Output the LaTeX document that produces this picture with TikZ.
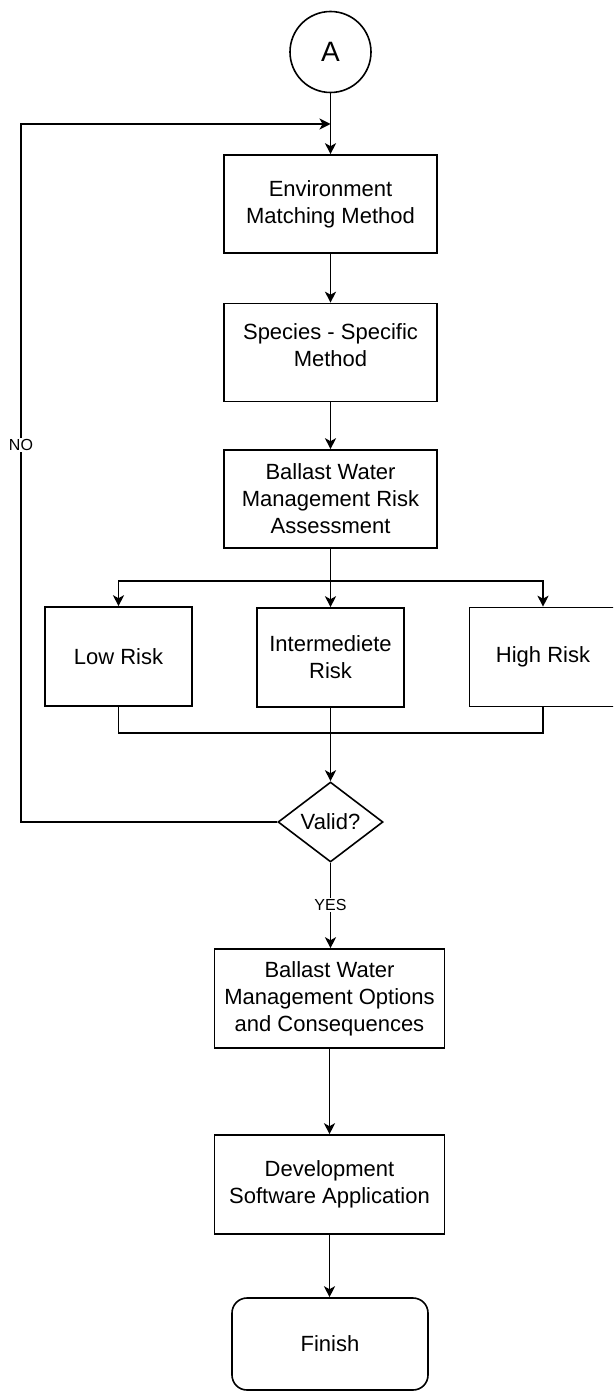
\documentclass[tikz,border=0pt]{standalone}
\usepackage{fontspec}
\setmainfont{Liberation Sans}
\usetikzlibrary{shapes.geometric,arrows.meta,calc}
\begin{document}
\begin{tikzpicture}[x=1pt,y=-1pt,
  every node/.style={font=\fontsize{22}{27}\selectfont, text=black, align=center},
  box/.style={draw, line width=1.6pt, rectangle, inner sep=0pt},
  mid/.style={box, minimum width=213pt, minimum height=98pt},
  riskbox/.style={box, minimum width=147pt, minimum height=99pt},
  wide/.style={box, minimum width=230pt, minimum height=99pt},
  conn/.style={line width=1.6pt},
  arr/.style={conn, -{Stealth[length=11pt,width=11pt,inset=3pt]}},
  lbl/.style={fill=white, inner sep=1pt, font=\fontsize{16}{18}\selectfont}]
\useasboundingbox (0,0) rectangle (613,1391);
\clip (0,0) rectangle (613,1391);
\fill[white] (0,0) rectangle (613,1391);

\node[draw, line width=1.6pt, circle, minimum size=81pt, inner sep=0pt, font=\fontsize{28}{30}\selectfont] (A) at (330.5,52) {A};
\node[mid] (env) at (330.5,204) {Environment\\Matching Method};
\node[mid, text depth=14pt] (spec) at (330.5,352.5) {Species - Specific\\Method};
\node[mid] (bwra) at (330.5,499) {Ballast Water\\Management Risk\\Assessment};
\node[riskbox] (low) at (118.5,656.5) {Low Risk};
\node[riskbox] (inter) at (330.5,657.5) {Intermediete\\Risk};
\node[riskbox] (high) at (543,657) {High Risk};
\node[draw, line width=1.6pt, diamond, minimum width=105pt, minimum height=80pt, inner sep=0pt] (valid) at (330.5,822) {Valid?};
\node[wide] (bwmo) at (329.5,998.5) {Ballast Water\\Management Options\\and Consequences};
\node[wide] (dev) at (329.5,1184.5) {Development\\Software Application};
\node[box, rounded corners=15pt, minimum width=196pt, minimum height=92pt] (fin) at (330,1344) {Finish};

\coordinate (j1) at (330.5,124);
\coordinate (lft) at (21,124);
\coordinate (br) at (330.5,581);
\coordinate (mg) at (330.5,733);

\draw[arr] (A.south) -- (env.north);
\draw[arr] (valid.west) -- (valid.west -| lft) -- (lft) -- (j1);
\node[lbl] (no) at (21,445) {NO};
\draw[arr] (env.south) -- (spec.north);
\draw[arr] (spec.south) -- (bwra.north);
\draw[conn] (bwra.south) -- (br);
\draw[arr] (br) -| (low.north);
\draw[arr] (br) -| (high.north);
\draw[arr] (br) -- (inter.north);
\draw[conn] (low.south) |- (mg);
\draw[conn] (high.south) |- (mg);
\draw[arr] (inter.south) -- (valid.north);
\draw[arr] (valid.south) -- (valid.south |- bwmo.north);
\node[lbl] (yes) at (330.5,905) {YES};
\draw[arr] (bwmo.south) -- (dev.north);
\draw[arr] (dev.south) -- (dev.south |- fin.north);
\end{tikzpicture}
\end{document}
